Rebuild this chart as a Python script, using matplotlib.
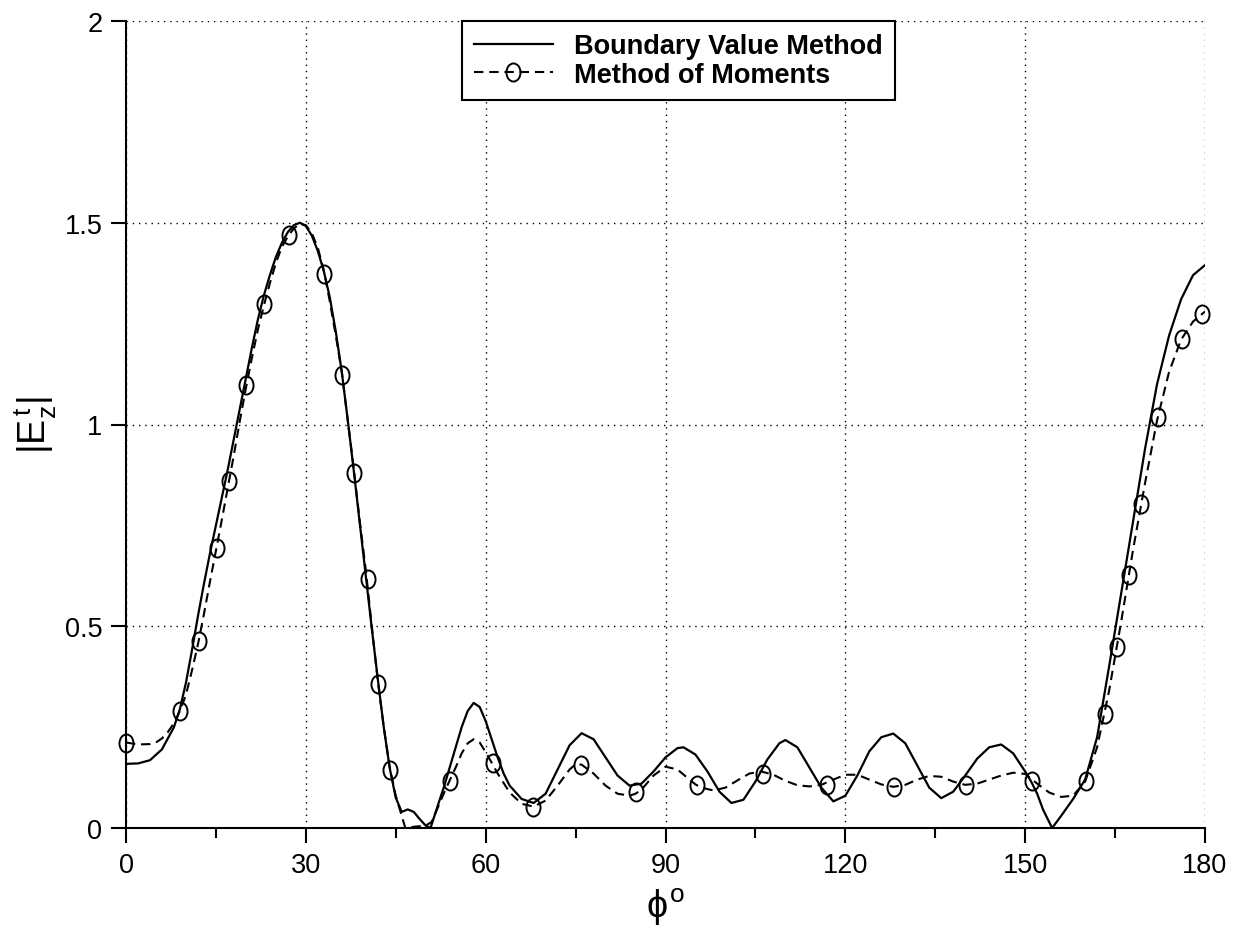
import numpy as np
import matplotlib
matplotlib.use("Agg")
import matplotlib.pyplot as plt
from matplotlib.path import Path
from matplotlib.lines import Line2D
from matplotlib.ticker import FixedLocator, FuncFormatter

plt.rcParams['font.family'] = ['Liberation Sans', 'DejaVu Sans']
plt.rcParams['mathtext.fontset'] = 'custom'
plt.rcParams['mathtext.rm'] = 'Liberation Sans'
plt.rcParams['mathtext.it'] = 'Liberation Sans'

# Boundary Value Method (solid)
bvm_phi = [0, 2, 4, 6, 8, 9, 10, 11, 12, 13, 14, 15, 16, 17, 18, 19, 20, 21, 22, 23,
           24, 25, 26, 27, 28, 29, 30, 31, 32, 33, 34, 35, 36, 37, 38, 39, 40, 41, 42, 43,
           44, 45, 46, 47, 48, 49, 50, 50.8, 52, 53, 54, 55, 56, 57, 58, 59, 60, 61, 62, 63,
           64, 66, 68, 70, 72, 74, 76, 78, 80, 82, 84, 86, 88, 90, 92, 93, 95, 97, 99, 101,
           103, 105, 107, 109, 110, 112, 114, 116, 118, 120, 122, 124, 126, 128, 130, 132, 134, 136, 138, 140,
           142, 144, 146, 148, 150, 151, 152, 153, 154.5, 156, 158, 160, 162, 164, 166, 168, 170, 172, 174, 176,
           178, 180]
bvm_val = [0.159, 0.16, 0.168, 0.195, 0.25, 0.295, 0.36, 0.44, 0.525, 0.605, 0.68, 0.75, 0.82, 0.89, 0.965, 1.04, 1.115, 1.19, 1.26, 1.32,
           1.37, 1.415, 1.45, 1.477, 1.494, 1.5, 1.492, 1.468, 1.43, 1.38, 1.315, 1.23, 1.13, 1.01, 0.885, 0.755, 0.625, 0.495, 0.37, 0.25,
           0.148, 0.075, 0.04, 0.046, 0.04, 0.022, 0.006, 0.0, 0.055, 0.1, 0.15, 0.2, 0.25, 0.29, 0.31, 0.3, 0.265, 0.22, 0.175, 0.135,
           0.105, 0.072, 0.062, 0.085, 0.145, 0.205, 0.235, 0.22, 0.175, 0.13, 0.105, 0.11, 0.14, 0.175, 0.198, 0.2, 0.182, 0.14, 0.09, 0.062,
           0.07, 0.115, 0.17, 0.21, 0.218, 0.2, 0.15, 0.1, 0.066, 0.08, 0.13, 0.19, 0.225, 0.234, 0.21, 0.155, 0.1, 0.074, 0.09, 0.13,
           0.172, 0.2, 0.207, 0.185, 0.14, 0.115, 0.085, 0.045, 0.0, 0.03, 0.072, 0.12, 0.225, 0.4, 0.58, 0.76, 0.94, 1.1, 1.22, 1.31,
           1.37, 1.395]

# Method of Moments (dashed)
mom_phi = [0, 2, 4, 5, 6, 7, 8, 9, 10, 11, 12, 13, 14, 15, 16, 17, 18, 19, 20, 21,
           22, 23, 24, 25, 26, 27, 28, 29, 30, 31, 32, 33, 34, 35, 36, 37, 38, 39, 40, 41,
           42, 43, 44, 45, 46, 46.6, 48, 50, 51, 52, 53, 54, 55, 56, 57, 58, 59, 60, 61, 62,
           64, 66, 68, 70, 72, 74, 75, 76, 78, 80, 82, 84, 85, 86, 88, 90, 92, 94, 95, 96,
           98, 100, 102, 104, 106, 108, 110, 112, 114, 116, 118, 120, 122, 124, 126, 128, 130, 132, 134, 136,
           138, 140, 142, 144, 146, 148, 150, 152, 154, 156, 158, 160, 162, 164, 166, 168, 170, 172, 174, 176,
           178, 180]
mom_val = [0.212, 0.207, 0.208, 0.212, 0.222, 0.238, 0.26, 0.29, 0.33, 0.39, 0.455, 0.53, 0.61, 0.687, 0.765, 0.845, 0.925, 1.01, 1.09, 1.165,
           1.235, 1.295, 1.35, 1.4, 1.44, 1.466, 1.486, 1.497, 1.494, 1.474, 1.438, 1.382, 1.305, 1.22, 1.13, 1.01, 0.89, 0.76, 0.64, 0.5,
           0.365, 0.25, 0.15, 0.08, 0.03, 0.0, 0.003, 0.006, 0.015, 0.05, 0.085, 0.118, 0.15, 0.185, 0.21, 0.22, 0.212, 0.188, 0.162, 0.135,
           0.088, 0.06, 0.053, 0.068, 0.105, 0.145, 0.158, 0.157, 0.135, 0.105, 0.085, 0.08, 0.085, 0.095, 0.13, 0.152, 0.145, 0.12, 0.108, 0.1,
           0.093, 0.1, 0.118, 0.135, 0.14, 0.132, 0.117, 0.106, 0.103, 0.107, 0.12, 0.132, 0.132, 0.12, 0.108, 0.102, 0.107, 0.12, 0.129, 0.127,
           0.115, 0.107, 0.11, 0.12, 0.13, 0.137, 0.134, 0.11, 0.088, 0.077, 0.08, 0.115, 0.2, 0.34, 0.51, 0.69, 0.855, 1.01, 1.13, 1.21,
           1.255, 1.28]

# circle markers on the dashed curve
mark_phi = [0, 9, 12.2, 15.1, 17.2, 20.1, 23.1, 27.2, 33.1, 36.1, 38.1, 40.3, 42.1, 44.1, 54.1, 61.2, 67.9,
            75.9, 85.1, 95.2, 106.2, 117, 128.1, 140.1, 151.2, 160.2, 163.4, 165.3, 167.3, 169.4, 172.1, 176.1, 179.5]
mark_val = [0.21, 0.29, 0.464, 0.694, 0.86, 1.098, 1.299, 1.469, 1.374, 1.122, 0.88, 0.617, 0.356, 0.143, 0.117, 0.16, 0.052,
            0.155, 0.088, 0.107, 0.135, 0.107, 0.102, 0.107, 0.116, 0.116, 0.283, 0.449, 0.628, 0.803, 1.019, 1.213, 1.275]

x_ticks = [0, 30, 60, 90, 120, 150, 180]
x_minor = [15, 45, 75, 105, 135, 165]
y_ticks = [0, 0.5, 1, 1.5, 2]

# slightly tall ellipse marker
circ = Path.unit_circle()
ell = Path(circ.vertices * np.array([0.78, 1.0]), circ.codes)

fig = plt.figure(figsize=(12.35, 9.29), dpi=100)
ax = fig.add_axes([126 / 1235, 1 - 829 / 929, 1079 / 1235, 807 / 929])

ax.plot(bvm_phi, bvm_val, "k-", lw=1.6)
ax.plot(mom_phi, mom_val, "k", lw=1.5, linestyle=(0, (4.5, 2.8)))
ax.plot(mark_phi, mark_val, linestyle="none", marker=ell, markersize=13,
        markerfacecolor="none", markeredgecolor="k", markeredgewidth=1.4, clip_on=False)

ax.set_xlim(0, 180)
ax.set_ylim(0, 2)
ax.xaxis.set_major_locator(FixedLocator(x_ticks))
ax.xaxis.set_minor_locator(FixedLocator(x_minor))
ax.yaxis.set_major_locator(FixedLocator(y_ticks))
ax.yaxis.set_major_formatter(FuncFormatter(lambda v, p: "%g" % v))

ax.grid(True, which="major", color="k", linestyle=(0, (1, 3.5)), linewidth=1.0)
ax.spines["top"].set_visible(False)
ax.spines["right"].set_visible(False)
ax.spines["left"].set_linewidth(1.5)
ax.spines["bottom"].set_linewidth(1.5)
ax.tick_params(which="major", direction="out", length=11, width=1.5, labelsize=19.5, pad=6)
ax.tick_params(which="minor", direction="out", length=7.5, width=1.5)

ax.set_xlabel(r"$\phi^{\mathrm{o}}$", fontsize=27, labelpad=6)
ax.set_ylabel(r"$\mathrm{|E_z^{\,t}|}$", fontsize=27)
ax.yaxis.set_label_coords(-0.062, 0.5)

h1 = Line2D([], [], color="k", lw=1.6)
h2 = Line2D([], [], color="k", lw=1.5, linestyle=(0, (4.5, 2.8)), marker=ell,
            markersize=13, markerfacecolor="none", markeredgewidth=1.4)
leg = ax.legend([h1, h2], ["Boundary Value Method", "Method of Moments"],
                loc="upper left", bbox_to_anchor=((462 - 126) / 1079, 1.0),
                prop={"weight": "bold", "size": 19.5}, frameon=True, fancybox=False,
                handlelength=2.9, handletextpad=0.8, borderpad=0.45, labelspacing=0.1,
                borderaxespad=0)
leg.get_frame().set_edgecolor("k")
leg.get_frame().set_linewidth(1.5)
leg.get_frame().set_alpha(1)

plt.savefig("out.png", dpi=100)
